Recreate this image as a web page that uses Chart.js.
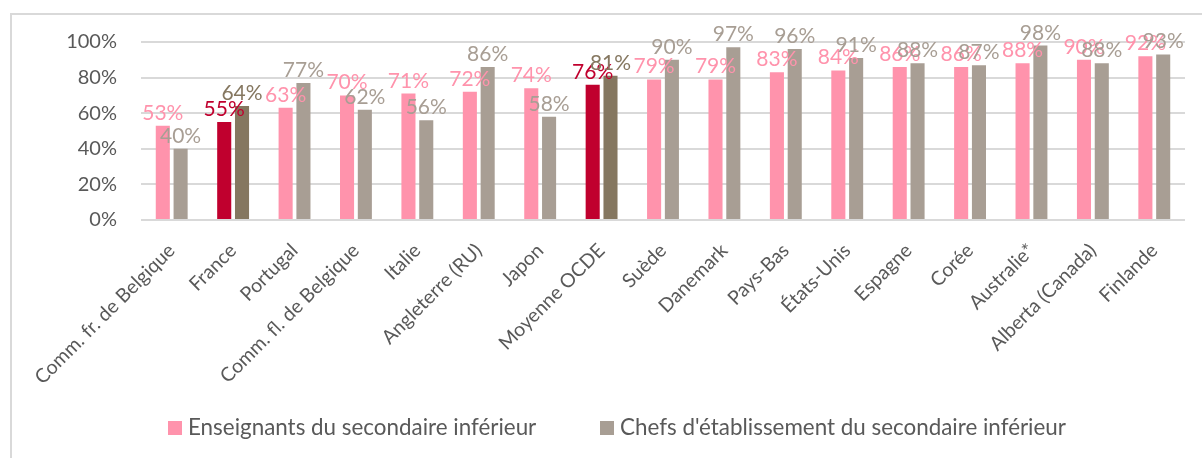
<!DOCTYPE html>
<html>
<head>
<meta charset="utf-8">
<script src="https://cdn.jsdelivr.net/npm/chart.js@4"></script>
<style>
  html, body { margin: 0; padding: 0; background: #ffffff; }
  body { width: 1202px; height: 458px; overflow: hidden; position: relative; }
  #frame { position: absolute; left: 10px; top: 13px; width: 1220px; height: 480px; border: 2px solid #D9D9D9; box-sizing: border-box; }
  #c { position: absolute; left: 0; top: 0; }
</style>
</head>
<body>
<div id="frame"></div>
<canvas id="c" width="1202" height="458"></canvas>
<script>
const categories = ["Comm. fr. de Belgique", "France", "Portugal", "Comm. fl. de Belgique", "Italie", "Angleterre (RU)", "Japon", "Moyenne OCDE", "Suède", "Danemark", "Pays-Bas", "États-Unis", "Espagne", "Corée", "Australie*", "Alberta (Canada)", "Finlande"];
const teachers = [53, 55, 63, 70, 71, 72, 74, 76, 79, 79, 83, 84, 86, 86, 88, 90, 92];
const principals = [40, 64, 77, 62, 56, 86, 58, 81, 90, 97, 96, 91, 88, 87, 98, 88, 93];
const highlighted = ["France", "Moyenne OCDE"];
const seriesNames = ["Enseignants du secondaire inférieur", "Chefs d'établissement du secondaire inférieur"];
const yTicks = [0, 20, 40, 60, 80, 100];

const PINK = "#FF93AC", RED = "#C0002E", GREY = "#A89E94", BROWN = "#857760";
const FONT = "Lato, 'Open Sans', sans-serif";
const TEXT = "#595959";

const isHi = categories.map(c => highlighted.includes(c));
const teacherColors = isHi.map(h => h ? RED : PINK);
const principalColors = isHi.map(h => h ? BROWN : GREY);

const valueLabels = {
  id: "valueLabels",
  afterDatasetsDraw(chart) {
    const ctx = chart.ctx;
    ctx.save();
    ctx.font = "21px " + FONT;
    ctx.textAlign = "center";
    ctx.textBaseline = "alphabetic";
    chart.data.datasets.forEach((ds, di) => {
      const meta = chart.getDatasetMeta(di);
      meta.data.forEach((bar, i) => {
        ctx.fillStyle = ds.labelColors[i];
        ctx.fillText(ds.data[i] + "%", bar.x, bar.y - 6);
      });
    });
    ctx.restore();
  }
};

const bottomLegend = {
  id: "bottomLegend",
  afterDraw(chart) {
    const ctx = chart.ctx;
    const items = [
      { text: seriesNames[0], color: PINK, x: 168 },
      { text: seriesNames[1], color: GREY, x: 600 }
    ];
    ctx.save();
    ctx.font = "22.4px " + FONT;
    ctx.textBaseline = "middle";
    ctx.textAlign = "left";
    items.forEach(it => {
      ctx.fillStyle = it.color;
      ctx.fillRect(it.x, 421, 14, 14);
      ctx.fillStyle = TEXT;
      ctx.fillText(it.text, it.x + 20, 428);
    });
    ctx.restore();
  }
};

new Chart(document.getElementById("c"), {
  type: "bar",
  data: {
    labels: categories,
    datasets: [
      { label: seriesNames[0], data: teachers, backgroundColor: teacherColors, labelColors: teacherColors, borderWidth: 0 },
      { label: seriesNames[1], data: principals, backgroundColor: principalColors, labelColors: principalColors, borderWidth: 0 }
    ]
  },
  options: {
    responsive: false,
    animation: false,
    events: [],
    layout: { padding: { left: 48, right: 17, top: 42, bottom: 0 } },
    datasets: { bar: { categoryPercentage: 0.58, barPercentage: 0.79 } },
    scales: {
      x: {
        grid: { display: false },
        border: { display: false },
        ticks: {
          color: TEXT,
          font: { family: FONT, size: 19.5 },
          minRotation: 45,
          maxRotation: 45,
          autoSkip: false,
          padding: 11
        },
        afterFit(scale) { scale.height = 238; }
      },
      y: {
        min: 0,
        max: 100,
        afterBuildTicks(scale) { scale.ticks = yTicks.map(v => ({ value: v })); },
        grid: { color: "#D9D9D9", lineWidth: 2, drawTicks: false },
        border: { display: false },
        ticks: {
          color: TEXT,
          font: { family: FONT, size: 20 },
          padding: 24,
          callback: v => v + "%"
        },
        afterFit(scale) { scale.width = 93; }
      }
    },
    plugins: {
      tooltip: { enabled: false },
      legend: { display: false }
    }
  },
  plugins: [valueLabels, bottomLegend]
});
</script>
</body>
</html>
